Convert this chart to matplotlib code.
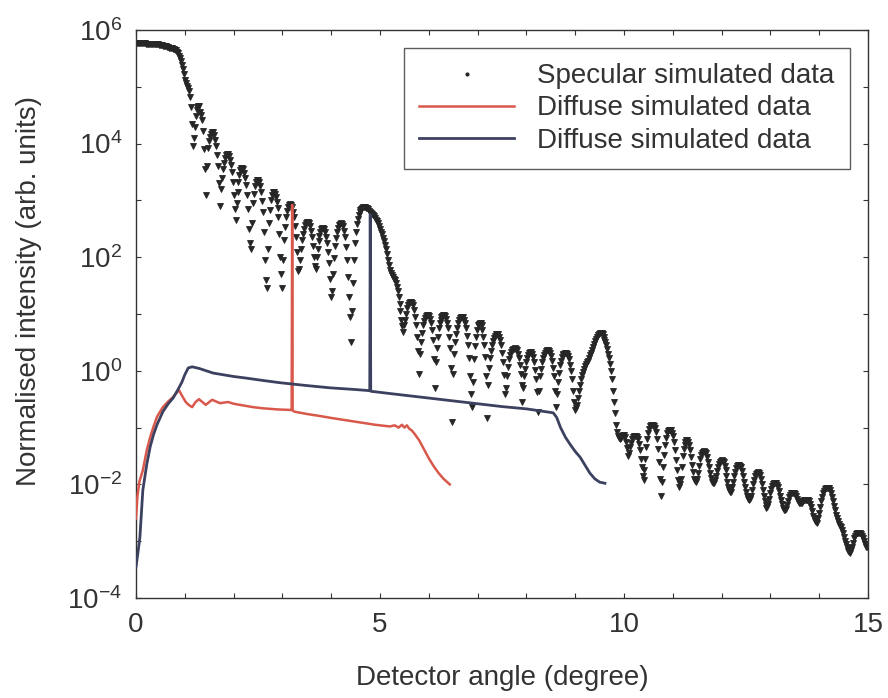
import matplotlib
matplotlib.use('Agg')
import matplotlib.pyplot as plt
import numpy as np
from matplotlib.lines import Line2D
from matplotlib.ticker import FixedLocator, FuncFormatter

plt.rcParams['font.family'] = ['Liberation Sans', 'DejaVu Sans']
plt.rcParams['mathtext.fontset'] = 'custom'
plt.rcParams['mathtext.rm'] = 'Liberation Sans'

TEXT_COLOR = '#333333'
SPEC_COLOR = '#262626'
RED_COLOR = '#d9584c'
BLUE_COLOR = '#3c4160'

# specular curve, log10 intensity sampled every 0.02 degree from 0 (one row = 0.2 degree)
spec_step = 0.02
spec_log = [
    5.77, 5.77, 5.77, 5.77, 5.77, 5.77, 5.77, 5.77, 5.77, 5.77,
    5.76, 5.76, 5.76, 5.76, 5.76, 5.76, 5.76, 5.76, 5.75, 5.75,
    5.75, 5.75, 5.75, 5.75, 5.74, 5.74, 5.73, 5.73, 5.72, 5.72,
    5.71, 5.71, 5.70, 5.70, 5.69, 5.69, 5.68, 5.68, 5.67, 5.66,
    5.65, 5.64, 5.62, 5.59, 5.55, 5.51, 5.45, 5.39, 5.32, 5.22,
    5.12, 5.06, 5.02, 4.98, 4.92, 4.82, 4.65, 4.35, 3.95, 4.10,
    4.30, 4.48, 4.60, 4.65, 4.67, 4.66, 4.56, 4.50, 4.42, 4.22,
    3.90, 3.55, 3.10, 3.60, 3.92, 4.05, 4.12, 4.17, 4.20, 4.20,
    4.15, 4.07, 3.95, 3.80, 3.60, 3.30, 2.90, 3.20, 3.40, 3.55,
    3.65, 3.74, 3.80, 3.82, 3.82, 3.79, 3.72, 3.63, 3.50, 3.32,
    3.10, 2.85, 2.65, 2.95, 3.15, 3.32, 3.45, 3.53, 3.57, 3.57,
    3.55, 3.49, 3.40, 3.27, 3.10, 2.85, 2.50, 2.25, 2.15, 2.60,
    2.95, 3.12, 3.25, 3.32, 3.36, 3.36, 3.33, 3.25, 3.15, 2.99,
    2.80, 2.45, 1.95, 1.60, 1.45, 2.15, 2.60, 2.83, 3.00, 3.09,
    3.15, 3.15, 3.12, 3.06, 2.98, 2.86, 2.70, 2.40, 2.00, 1.70,
    1.46, 1.95, 2.30, 2.53, 2.70, 2.81, 2.88, 2.92, 2.93, 2.92,
    2.88, 2.80, 2.70, 2.55, 2.35, 2.10, 1.75, 1.80, 1.95, 2.15,
    2.30, 2.41, 2.50, 2.56, 2.60, 2.62, 2.62, 2.60, 2.55, 2.47,
    2.35, 2.20, 2.00, 1.85, 1.80, 2.00, 2.15, 2.28, 2.38, 2.45,
    2.50, 2.52, 2.52, 2.50, 2.45, 2.36, 2.25, 2.10, 1.90, 1.62,
    1.30, 1.40, 1.70, 1.98, 2.20, 2.34, 2.45, 2.52, 2.57, 2.59,
    2.60, 2.59, 2.55, 2.46, 2.35, 2.18, 1.95, 1.65, 1.30, 0.95,
    0.50, 1.05, 1.55, 1.95, 2.25, 2.44, 2.58, 2.67, 2.74, 2.79,
    2.83, 2.85, 2.87, 2.88, 2.88, 2.88, 2.87, 2.86, 2.84, 2.82,
    2.80, 2.78, 2.76, 2.74, 2.72, 2.69, 2.66, 2.63, 2.60, 2.55,
    2.50, 2.45, 2.40, 2.34, 2.28, 2.22, 2.15, 2.05, 1.95, 1.86,
    1.78, 1.72, 1.68, 1.65, 1.62, 1.59, 1.55, 1.48, 1.40, 1.30,
    1.18, 1.05, 0.90, 0.78, 0.68, 0.80, 0.90, 1.00, 1.10, 1.16,
    1.20, 1.22, 1.22, 1.19, 1.15, 1.07, 0.95, 0.80, 0.60, 0.35,
    -0.05, 0.30, 0.50, 0.67, 0.80, 0.88, 0.93, 0.96, 0.98, 0.98,
    0.97, 0.92, 0.85, 0.72, 0.55, 0.20, -0.30, 0.15, 0.40, 0.60,
    0.75, 0.84, 0.90, 0.94, 0.97, 0.98, 0.98, 0.96, 0.92, 0.85,
    0.75, 0.60, 0.40, 0.05, -0.90, -0.05, 0.30, 0.50, 0.65, 0.76,
    0.85, 0.90, 0.93, 0.95, 0.95, 0.94, 0.90, 0.84, 0.75, 0.62,
    0.45, 0.22, -0.10, -0.40, -0.64, -0.20, 0.20, 0.43, 0.60, 0.71,
    0.80, 0.83, 0.85, 0.84, 0.80, 0.72, 0.60, 0.45, 0.25, -0.10,
    -0.83, -0.25, 0.05, 0.22, 0.35, 0.45, 0.52, 0.58, 0.62, 0.64,
    0.65, 0.64, 0.60, 0.54, 0.45, 0.32, 0.15, -0.08, -0.40, -0.30,
    -0.10, 0.06, 0.20, 0.28, 0.33, 0.36, 0.38, 0.39, 0.40, 0.39,
    0.36, 0.30, 0.22, 0.10, -0.05, -0.25, -0.55, -0.30, -0.10, 0.03,
    0.15, 0.22, 0.28, 0.31, 0.33, 0.33, 0.30, 0.24, 0.15, 0.02,
    -0.15, -0.38, -0.72, -0.35, -0.10, 0.03, 0.15, 0.22, 0.28, 0.32,
    0.35, 0.36, 0.37, 0.35, 0.32, 0.26, 0.18, 0.05, -0.10, -0.35,
    -0.64, -0.40, -0.20, -0.03, 0.10, 0.18, 0.24, 0.27, 0.29, 0.30,
    0.31, 0.31, 0.30, 0.26, 0.20, 0.11, 0.00, -0.15, -0.35, -0.55,
    -0.69, -0.66, -0.60, -0.48, -0.35, -0.25, -0.15, -0.08, -0.02, 0.03,
    0.08, 0.12, 0.15, 0.18, 0.22, 0.27, 0.32, 0.37, 0.42, 0.47,
    0.52, 0.56, 0.60, 0.63, 0.65, 0.66, 0.67, 0.66, 0.64, 0.60,
    0.55, 0.50, 0.45, 0.38, 0.30, 0.22, 0.12, 0.00, -0.15, -0.35,
    -0.55, -0.75, -0.95, -1.08, -1.15, -1.19, -1.20, -1.18, -1.15, -1.13,
    -1.13, -1.17, -1.25, -1.36, -1.50, -1.45, -1.35, -1.27, -1.20, -1.17,
    -1.15, -1.14, -1.15, -1.16, -1.20, -1.28, -1.40, -1.55, -1.70, -1.85,
    -1.92, -1.75, -1.55, -1.35, -1.20, -1.10, -1.02, -0.98, -0.96, -0.95,
    -0.95, -0.97, -1.00, -1.08, -1.20, -1.38, -1.60, -1.90, -2.20, -1.95,
    -1.70, -1.48, -1.30, -1.18, -1.10, -1.06, -1.04, -1.04, -1.05, -1.09,
    -1.15, -1.25, -1.40, -1.57, -1.75, -1.92, -2.04, -2.00, -1.90, -1.70,
    -1.50, -1.38, -1.30, -1.25, -1.22, -1.22, -1.25, -1.31, -1.40, -1.52,
    -1.65, -1.78, -1.90, -1.94, -1.95, -1.90, -1.80, -1.67, -1.55, -1.49,
    -1.45, -1.43, -1.42, -1.43, -1.45, -1.51, -1.60, -1.70, -1.80, -1.88,
    -1.95, -1.97, -1.98, -1.93, -1.85, -1.77, -1.70, -1.64, -1.60, -1.58,
    -1.57, -1.58, -1.60, -1.67, -1.75, -1.85, -1.95, -2.04, -2.10, -2.13,
    -2.13, -2.05, -1.95, -1.86, -1.78, -1.72, -1.68, -1.66, -1.66, -1.67,
    -1.70, -1.77, -1.85, -1.95, -2.05, -2.13, -2.20, -2.25, -2.27, -2.25,
    -2.20, -2.10, -2.00, -1.92, -1.86, -1.82, -1.80, -1.79, -1.80, -1.84,
    -1.90, -2.00, -2.10, -2.20, -2.30, -2.37, -2.42, -2.40, -2.35, -2.25,
    -2.15, -2.08, -2.03, -2.00, -1.98, -1.98, -1.98, -2.01, -2.05, -2.12,
    -2.20, -2.28, -2.35, -2.41, -2.45, -2.45, -2.43, -2.37, -2.30, -2.23,
    -2.18, -2.16, -2.15, -2.15, -2.15, -2.17, -2.20, -2.25, -2.30, -2.32,
    -2.33, -2.33, -2.33, -2.30, -2.28, -2.27, -2.27, -2.27, -2.27, -2.28,
    -2.30, -2.34, -2.40, -2.47, -2.55, -2.60, -2.65, -2.67, -2.68, -2.60,
    -2.50, -2.40, -2.30, -2.22, -2.15, -2.11, -2.08, -2.07, -2.06, -2.06,
    -2.07, -2.10, -2.15, -2.22, -2.30, -2.38, -2.45, -2.53, -2.60, -2.65,
    -2.70, -2.73, -2.75, -2.80, -2.85, -2.92, -3.00, -3.05, -3.10, -3.14,
    -3.18, -3.19, -3.20, -3.16, -3.10, -3.03, -2.95, -2.91, -2.88, -2.86,
    -2.85, -2.85, -2.86, -2.88, -2.90, -2.95, -3.00, -3.05, -3.10, -3.10,
    -3.10,
]

red_x = [0.0, 0.03, 0.07, 0.14, 0.22, 0.29, 0.36, 0.43, 0.55, 0.66, 0.76, 0.88,
         0.95, 1.02, 1.08, 1.15, 1.22, 1.29, 1.36, 1.43, 1.50, 1.56, 1.64, 1.72,
         1.80, 1.89, 2.00, 2.13, 2.40, 2.60, 2.90, 3.19, 3.20, 3.21, 3.25, 3.50,
         3.80, 4.00, 4.30, 4.60, 4.90, 5.10, 5.20, 5.30, 5.38, 5.45, 5.50, 5.55,
         5.60, 5.65, 5.70, 5.80, 5.90, 6.00, 6.10, 6.20, 6.30, 6.43]
red_log = [-2.60, -2.20, -1.95, -1.75, -1.40, -1.17, -0.98, -0.81, -0.64, -0.54, -0.46, -0.34,
           -0.45, -0.55, -0.60, -0.64, -0.55, -0.50, -0.55, -0.60, -0.55, -0.51, -0.54, -0.57,
           -0.56, -0.55, -0.58, -0.60, -0.64, -0.66, -0.68, -0.69, 2.92, -0.70, -0.72, -0.76,
           -0.80, -0.83, -0.87, -0.91, -0.95, -0.97, -0.98, -0.96, -1.00, -0.95, -1.00, -0.96,
           -1.02, -1.05, -1.10, -1.22, -1.38, -1.54, -1.68, -1.80, -1.90, -2.00]

blue_x = [0.0, 0.04, 0.08, 0.14, 0.22, 0.29, 0.36, 0.43, 0.55, 0.66, 0.76, 0.86,
          0.94, 1.00, 1.07, 1.15, 1.30, 1.58, 2.00, 2.27, 2.60, 2.95, 3.50, 3.98,
          4.50, 4.79, 4.80, 4.81, 5.20, 6.00, 7.00, 7.50, 8.00, 8.55, 8.62, 8.70,
          8.80, 8.90, 9.00, 9.10, 9.20, 9.30, 9.40, 9.50, 9.61]
blue_log = [-3.45, -3.20, -2.93, -2.10, -1.65, -1.34, -1.12, -0.95, -0.72, -0.58, -0.48, -0.33,
            -0.20, -0.07, 0.05, 0.07, 0.04, -0.04, -0.10, -0.13, -0.17, -0.21, -0.26, -0.30,
            -0.33, -0.35, 2.75, -0.36, -0.40, -0.48, -0.58, -0.63, -0.67, -0.74, -0.82, -1.00,
            -1.17, -1.30, -1.42, -1.52, -1.66, -1.80, -1.90, -1.96, -1.98]

legend_labels = ['Specular simulated data', 'Diffuse simulated data', 'Diffuse simulated data']


def decade_label(v, pos):
    e = int(round(np.log10(v)))
    return r'$\mathdefault{10^{%d}}$' % e if e % 2 == 0 else ''


def angle_label(v, pos):
    return '%d' % v if abs(v % 5) < 1e-6 else ''


def main():
    fig = plt.figure(figsize=(8.88, 6.98), dpi=100)
    ax = fig.add_axes([136 / 888, 1 - 598 / 698, 732 / 888, 568 / 698])

    spec_x = np.arange(len(spec_log)) * spec_step
    ax.plot(spec_x, 10 ** np.array(spec_log), ls='none', marker='v', ms=3.8,
            mec=SPEC_COLOR, mfc=SPEC_COLOR, mew=0.6, zorder=2)
    ax.plot(red_x, 10 ** np.array(red_log), color=RED_COLOR, lw=1.8, zorder=3)
    ax.plot(blue_x, 10 ** np.array(blue_log), color=BLUE_COLOR, lw=2.0, zorder=4)

    ax.set_yscale('log')
    ax.set_xlim(0, 15)
    ax.set_ylim(1e-4, 1e6)
    ax.xaxis.set_major_locator(FixedLocator(list(range(0, 16))))
    ax.xaxis.set_major_formatter(FuncFormatter(angle_label))
    ax.yaxis.set_major_locator(FixedLocator([10.0 ** e for e in range(-4, 7)]))
    ax.yaxis.set_major_formatter(FuncFormatter(decade_label))
    ax.yaxis.set_minor_locator(FixedLocator([]))
    ax.tick_params(which='both', direction='in', top=True, right=True, length=3.5,
                   width=0.8, labelsize=20, labelcolor=TEXT_COLOR, pad=10, color='#333333')
    for s in ax.spines.values():
        s.set_linewidth(1.0)
        s.set_color('#333333')

    ax.set_xlabel('Detector angle (degree)', fontsize=20, color=TEXT_COLOR)
    ax.set_ylabel('Normalised intensity (arb. units)', fontsize=20, color=TEXT_COLOR)
    ax.xaxis.set_label_coords(0.5, -0.118)
    ax.yaxis.set_label_coords(-0.128, 0.54)

    handles = [Line2D([], [], ls='none', marker='.', ms=4, color=SPEC_COLOR),
               Line2D([], [], color=RED_COLOR, lw=1.8),
               Line2D([], [], color=BLUE_COLOR, lw=2.0)]
    leg = ax.legend(handles, legend_labels, loc='upper right', bbox_to_anchor=(0.9754, 0.9683),
                    borderaxespad=0, fontsize=20, frameon=True, fancybox=False,
                    handlelength=3.4, handletextpad=0.85, labelspacing=0.22,
                    borderpad=0.55, numpoints=1)
    leg.get_frame().set_edgecolor('#333333')
    leg.get_frame().set_linewidth(1.0)
    for t in leg.get_texts():
        t.set_color(TEXT_COLOR)

    fig.savefig('out.png', dpi=100, facecolor='white')


if __name__ == '__main__':
    main()
